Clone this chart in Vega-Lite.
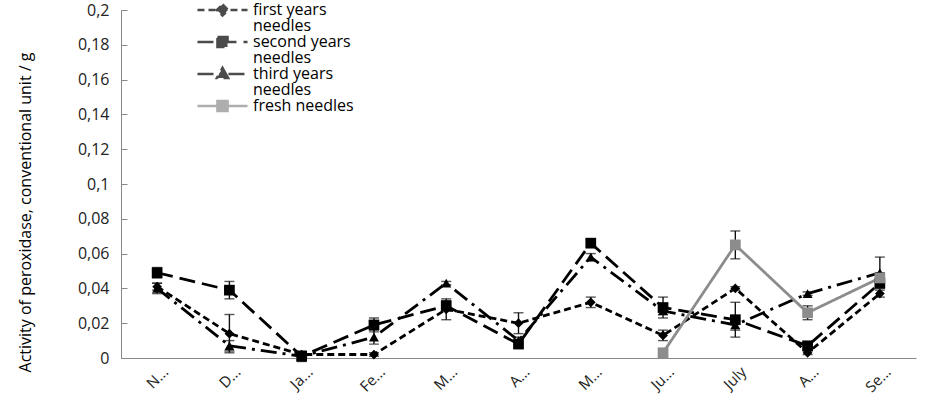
{
  "$schema": "https://vega.github.io/schema/vega-lite/v6.json",
  "width": 795,
  "height": 348,
  "autosize": {"type": "none"},
  "padding": {"left": 121, "top": 10, "right": 16, "bottom": 52},
  "background": "white",
  "config": {
    "view": {"stroke": null},
    "font": "Open Sans",
    "axis": {"grid": false},
    "style": {"guide-label": {"lineHeight": 15.5}}
  },
  "data": {
    "values": [
      {"month": "November", "series": "first years needles", "value": 0.041, "err": 0.002},
      {"month": "December", "series": "first years needles", "value": 0.014, "err": 0.011},
      {"month": "January", "series": "first years needles", "value": 0.002, "err": 0.001},
      {"month": "February", "series": "first years needles", "value": 0.002, "err": 0.001},
      {"month": "March", "series": "first years needles", "value": 0.028, "err": 0.006},
      {"month": "April", "series": "first years needles", "value": 0.020, "err": 0.006},
      {"month": "May", "series": "first years needles", "value": 0.032, "err": 0.003},
      {"month": "June", "series": "first years needles", "value": 0.013, "err": 0.003},
      {"month": "July", "series": "first years needles", "value": 0.040, "err": 0.001},
      {"month": "August", "series": "first years needles", "value": 0.003, "err": 0.001},
      {"month": "September", "series": "first years needles", "value": 0.037, "err": 0.002},
      {"month": "November", "series": "second years needles", "value": 0.049, "err": 0.003},
      {"month": "December", "series": "second years needles", "value": 0.039, "err": 0.005},
      {"month": "January", "series": "second years needles", "value": 0.001, "err": 0.003},
      {"month": "February", "series": "second years needles", "value": 0.019, "err": 0.004},
      {"month": "March", "series": "second years needles", "value": 0.030, "err": 0.003},
      {"month": "April", "series": "second years needles", "value": 0.008, "err": 0.002},
      {"month": "May", "series": "second years needles", "value": 0.066, "err": 0.002},
      {"month": "June", "series": "second years needles", "value": 0.029, "err": 0.006},
      {"month": "July", "series": "second years needles", "value": 0.022, "err": 0.010},
      {"month": "August", "series": "second years needles", "value": 0.007, "err": 0.002},
      {"month": "September", "series": "second years needles", "value": 0.043, "err": 0.002},
      {"month": "November", "series": "third years needles", "value": 0.040, "err": 0.003},
      {"month": "December", "series": "third years needles", "value": 0.007, "err": 0.003},
      {"month": "January", "series": "third years needles", "value": 0.001, "err": 0.002},
      {"month": "February", "series": "third years needles", "value": 0.012, "err": 0.004},
      {"month": "March", "series": "third years needles", "value": 0.043, "err": 0.001},
      {"month": "April", "series": "third years needles", "value": 0.010, "err": 0.002},
      {"month": "May", "series": "third years needles", "value": 0.058, "err": 0.002},
      {"month": "June", "series": "third years needles", "value": 0.027, "err": 0.002},
      {"month": "July", "series": "third years needles", "value": 0.019, "err": 0.003},
      {"month": "August", "series": "third years needles", "value": 0.037, "err": 0.001},
      {"month": "September", "series": "third years needles", "value": 0.049, "err": 0.009},
      {"month": "June", "series": "fresh needles", "value": 0.003, "err": 0.002},
      {"month": "July", "series": "fresh needles", "value": 0.065, "err": 0.008},
      {"month": "August", "series": "fresh needles", "value": 0.026, "err": 0.004},
      {"month": "September", "series": "fresh needles", "value": 0.046, "err": 0.003}
    ]
  },
  "encoding": {
    "x": {
      "field": "month",
      "type": "ordinal",
      "sort": ["November", "December", "January", "February", "March", "April", "May", "June", "July", "August", "September"],
      "scale": {"type": "point", "padding": 0.5},
      "axis": {
        "title": null,
        "labelExpr": "{'November':'N...','December':'D...','January':'Ja...','February':'Fe...','March':'M...','April':'A...','May':'M...','June':'Ju...','July':'July','August':'A...','September':'Se...'}[datum.value]",
        "labelAngle": -45,
        "labelAlign": "right",
        "labelBaseline": "middle",
        "labelPadding": 11,
        "labelOffset": 8,
        "labelFontSize": 15,
        "labelColor": "#222",
        "ticks": false,
        "domainColor": "#888888",
        "domainWidth": 1
      }
    },
    "y": {
      "field": "value",
      "type": "quantitative",
      "scale": {"domain": [0, 0.2], "nice": false},
      "axis": {
        "title": "Activity of peroxidase, conventional unit / g",
        "titleFontSize": 16,
        "titleFontWeight": "normal",
        "titleColor": "#000",
        "titleAngle": -90,
        "titleX": -96,
        "titleY": 202,
        "titleAlign": "center",
        "titleBaseline": "middle",
        "values": [0, 0.02, 0.04, 0.06, 0.08, 0.1, 0.12, 0.14, 0.16, 0.18, 0.2],
        "format": ".2~f",
        "labelExpr": "replace(datum.label, '.', ',')",
        "labelFontSize": 16,
        "labelColor": "#222",
        "labelPadding": 18,
        "tickSize": -6,
        "tickColor": "#888888",
        "domainColor": "#888888"
      }
    }
  },
  "layer": [
    {
      "mark": {"type": "line", "strokeWidth": 2.8},
      "encoding": {
        "color": {
          "field": "series", "type": "nominal",
          "scale": {"domain": ["first years needles", "second years needles", "third years needles", "fresh needles"], "range": ["#000000", "#000000", "#000000", "#8c8c8c"]},
          "legend": {"title": null, "orient": "none", "legendX": 93.5, "legendY": -8, "labelFontSize": 16, "labelColor": "#000", "labelOffset": 22.5, "symbolSize": 169, "symbolStrokeWidth": 2.6, "rowPadding": -4, "labelExpr": "datum.label == 'fresh needles' ? datum.label : [replace(datum.label, ' needles', ''), 'needles']"}
        },
        "strokeDash": {
          "field": "series", "type": "nominal",
          "scale": {"domain": ["first years needles", "second years needles", "third years needles", "fresh needles"], "range": [[7, 4], [16, 7], [16, 6, 3, 6], [1, 0]]},
          "legend": {"title": null, "orient": "none", "legendX": 93.5, "legendY": -8, "labelFontSize": 16, "labelColor": "#000", "labelOffset": 22.5, "symbolSize": 169, "symbolStrokeWidth": 2.6, "rowPadding": -4, "labelExpr": "datum.label == 'fresh needles' ? datum.label : [replace(datum.label, ' needles', ''), 'needles']"}
        }
      }
    },
    {
      "mark": {"type": "errorbar", "color": "#111111", "thickness": 1.4, "ticks": {"size": 10, "thickness": 1.4, "color": "#111111"}},
      "encoding": {
        "yError": {"field": "err"}
      }
    },
    {
      "transform": [{"filter": "datum.series == 'first years needles'"}],
      "mark": {"type": "point", "shape": "diamond", "filled": true, "size": 95, "color": "#000000", "opacity": 1}
    },
    {
      "transform": [{"filter": "datum.series == 'second years needles'"}],
      "mark": {"type": "point", "shape": "square", "filled": true, "size": 115, "color": "#000000", "opacity": 1}
    },
    {
      "transform": [{"filter": "datum.series == 'third years needles'"}],
      "mark": {"type": "point", "shape": "triangle-up", "filled": true, "size": 100, "color": "#000000", "opacity": 1}
    },
    {
      "transform": [{"filter": "datum.series == 'fresh needles'"}],
      "mark": {"type": "point", "shape": "square", "filled": true, "size": 115, "color": "#8c8c8c", "opacity": 1}
    },
    {
      "transform": [{"filter": "datum.value < 0"}],
      "mark": {"type": "point", "filled": true},
      "encoding": {
        "shape": {
          "field": "series", "type": "nominal",
          "scale": {"domain": ["first years needles", "second years needles", "third years needles", "fresh needles"], "range": ["M-3.85,0L3.85,0M0,-0.85L0.85,0L0,0.85L-0.85,0Z", "M-3.85,0L3.85,0M-0.77,-0.77L0.77,-0.77L0.77,0.77L-0.77,0.77Z", "M-3.85,0L3.85,0M0,-0.92L0.85,0.62L-0.85,0.62Z", "M-3.85,0L3.85,0M-0.77,-0.77L0.77,-0.77L0.77,0.77L-0.77,0.77Z"]},
          "legend": {"title": null, "orient": "none", "legendX": 93.5, "legendY": -8, "labelFontSize": 16, "labelColor": "#000", "labelOffset": 22.5, "symbolSize": 169, "symbolStrokeWidth": 2.6, "rowPadding": -4, "labelExpr": "datum.label == 'fresh needles' ? datum.label : [replace(datum.label, ' needles', ''), 'needles']"}
        },
        "color": {"field": "series", "type": "nominal"},
        "strokeDash": {"field": "series", "type": "nominal"}
      }
    }
  ]
}
